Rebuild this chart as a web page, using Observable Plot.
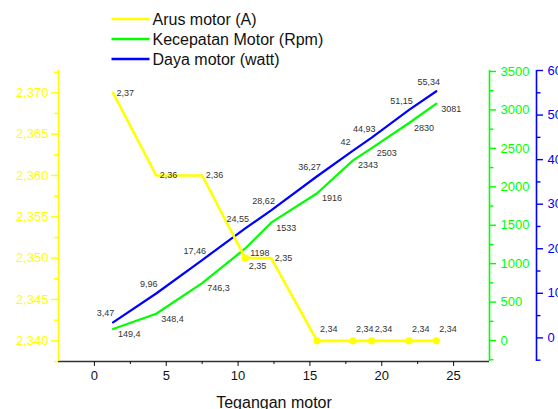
<!DOCTYPE html>
<html><head><meta charset="utf-8">
<script src="https://cdn.jsdelivr.net/npm/d3@7"></script>
<script src="https://cdn.jsdelivr.net/npm/@observablehq/plot@0.6"></script>
<style>body{margin:0;background:#fff;}</style>
</head><body><div id="chart"></div>
<script>
const tegangan = [1.3, 4.3, 7.5, 10.5, 12.3, 15.5, 18.0, 19.3, 21.9, 23.8];
const arus = [2.37, 2.36, 2.36, 2.35, 2.35, 2.34, 2.34, 2.34, 2.34, 2.34];
const kecepatan = [149.4, 348.4, 746.3, 1198, 1533, 1916, 2343, 2503, 2830, 3081];
const daya = [3.47, 9.96, 17.46, 24.55, 28.62, 36.27, 42, 44.93, 51.15, 55.34];
const xTicks = [0, 5, 10, 15, 20, 25];
const xMinorTicks = [2.5, 7.5, 12.5, 17.5, 22.5];
const arusTicks = [2.340, 2.345, 2.350, 2.355, 2.360, 2.365, 2.370];
const arusMinorTicks = [2.3375, 2.3425, 2.3475, 2.3525, 2.3575, 2.3625, 2.3675, 2.3725];
const kecepatanTicks = [0, 500, 1000, 1500, 2000, 2500, 3000, 3500];
const kecepatanMinorTicks = [-250, 250, 750, 1250, 1750, 2250, 2750, 3250];
const dayaTicks = [0, 10, 20, 30, 40, 50, 60];
const dayaMinorTicks = [-5, 5, 15, 25, 35, 45, 55];
const seriesNames = ["Arus motor (A)", "Kecepatan Motor (Rpm)", "Daya motor (watt)"];
const xLabel = "Tegangan motor";

const YEL = "#ffff00", GRN = "#00ff00", BLU = "#0000ff";
const xDomain = [-2.5, 27.5];
const yDomain = [2.3375, 2.3727];
const gDomain = [-273, 3513];
const bDomain = [-5.3, 60];
const mapTo = dom => v => yDomain[0] + (v - dom[0]) / (dom[1] - dom[0]) * (yDomain[1] - yDomain[0]);
const mapFrom = dom => y => dom[0] + (y - yDomain[0]) / (yDomain[1] - yDomain[0]) * (dom[1] - dom[0]);
const toG = mapTo(gDomain), fromG = mapFrom(gDomain);
const toB = mapTo(bDomain), fromB = mapFrom(bDomain);
const comma = s => String(s).replace(".", ",");

const rows = tegangan.map((x, i) => ({
  i, x, arus: arus[i], kec: kecepatan[i], daya: daya[i],
  yk: toG(kecepatan[i]), yd: toB(daya[i])
}));
const hasMarker = d => d.i === 3 || d.i >= 5;
const lblFont = 9, lblFill = "#333";

const chart = Plot.plot({
  width: 558, height: 409,
  marginTop: 70, marginRight: 69, marginBottom: 48, marginLeft: 58,
  style: {fontFamily: "'Liberation Sans', Arial, sans-serif", background: "white", overflow: "visible"},
  x: {domain: xDomain, axis: null},
  y: {domain: yDomain, axis: null},
  marks: [
    Plot.ruleY([yDomain[0]], {stroke: "#333", strokeWidth: 1.5}),
    Plot.ruleX([xDomain[0]], {stroke: YEL, strokeWidth: 1.6}),
    Plot.ruleX([xDomain[1]], {stroke: GRN, strokeWidth: 1.6}),
    Plot.ruleX([xDomain[1]], {stroke: BLU, strokeWidth: 1.6, dx: 47}),
    Plot.axisX(xTicks, {anchor: "bottom", tickSize: 5, tickPadding: 4, fontSize: 13, color: "#111", label: null}),
    Plot.axisX(xMinorTicks, {anchor: "bottom", tickSize: 3, tickFormat: () => "", color: "#111", label: null}),
    Plot.axisY(arusTicks, {anchor: "left", tickSize: 7, tickPadding: 3, fontSize: 13, color: YEL, strokeWidth: 1.4,
      tickFormat: d => comma(d3.format(".3f")(d)), label: null}),
    Plot.axisY(arusMinorTicks, {anchor: "left", tickSize: 4, tickFormat: () => "", color: YEL, strokeWidth: 1.4, label: null}),
    Plot.axisY(kecepatanTicks.map(toG), {anchor: "right", tickSize: 6, tickPadding: 5, fontSize: 13, color: GRN, strokeWidth: 1.4,
      tickFormat: d => String(Math.round(fromG(d))), label: null}),
    Plot.axisY(kecepatanMinorTicks.map(toG), {anchor: "right", tickSize: 3.5, tickFormat: () => "", color: GRN, strokeWidth: 1.4, label: null}),
    Plot.axisY(dayaTicks.map(toB), {anchor: "right", dx: 47, tickSize: 6, tickPadding: 5, fontSize: 13, color: BLU, strokeWidth: 1.4,
      tickFormat: d => String(Math.round(fromB(d))), label: null}),
    Plot.axisY(dayaMinorTicks.map(toB), {anchor: "right", dx: 47, tickSize: 3.5, tickFormat: () => "", color: BLU, strokeWidth: 1.4, label: null}),
    Plot.text([xLabel], {frameAnchor: "bottom", lineAnchor: "middle", dy: 41, fontSize: 16, fill: "#111"}),
    Plot.line(rows, {x: "x", y: "yd", stroke: BLU, strokeWidth: 2.2}),
    Plot.line(rows, {x: "x", y: "yk", stroke: GRN, strokeWidth: 2.2}),
    Plot.line(rows, {x: "x", y: "arus", stroke: YEL, strokeWidth: 2.6}),
    Plot.dot(rows.filter(hasMarker), {x: "x", y: "arus", r: 3.6, fill: YEL}),
    Plot.text(rows, {x: "x", y: "yd", text: d => comma(d.daya), textAnchor: "middle", dx: -7.5, dy: -9, fontSize: lblFont, fill: lblFill}),
    Plot.text(rows, {x: "x", y: "yk", text: d => comma(d.kec), textAnchor: "start", dx: 5, dy: 5, fontSize: lblFont, fill: lblFill}),
    Plot.text(rows.filter(d => !hasMarker(d)), {x: "x", y: "arus", text: d => comma(d3.format(".2f")(d.arus)), textAnchor: "start", dx: 3.5, dy: 0, fontSize: lblFont, fill: lblFill}),
    Plot.text(rows.filter(d => d.i === 3), {x: "x", y: "arus", text: d => comma(d3.format(".2f")(d.arus)), textAnchor: "start", dx: 3.5, dy: 8, fontSize: lblFont, fill: lblFill}),
    Plot.text(rows.filter(d => d.i >= 5), {x: "x", y: "arus", text: d => comma(d3.format(".2f")(d.arus)), textAnchor: "start", dx: 3, dy: -12, fontSize: lblFont, fill: lblFill})
  ]
});

// legend
const svg = d3.select(chart);
const colors = [YEL, GRN, BLU];
const lg = svg.append("g").attr("font-family", "'Liberation Sans', Arial, sans-serif").attr("text-anchor", "start");
seriesNames.forEach((name, k) => {
  const yy = 19 + 20 * k;
  lg.append("line").attr("x1", 111.5).attr("x2", 149.5).attr("y1", yy).attr("y2", yy)
    .attr("stroke", colors[k]).attr("stroke-width", 2.4);
  lg.append("text").attr("x", 152.5).attr("y", yy + 5.5).attr("font-size", 16).attr("fill", "#111")
    .attr("text-anchor", "start").text(name);
});
document.getElementById("chart").appendChild(chart);
</script>
</body></html>
